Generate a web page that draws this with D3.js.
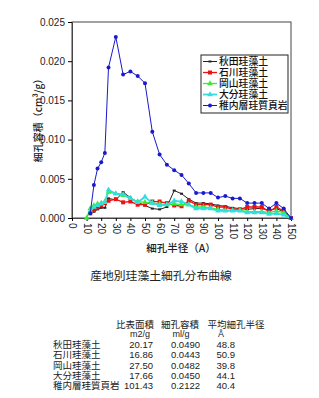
<!DOCTYPE html>
<html>
<head>
<meta charset="utf-8">
<script src="https://cdn.jsdelivr.net/npm/d3@7"></script>
<style>
  body { margin: 0; background: #fff; }
  svg { display: block; }
  text { font-family: "Liberation Sans", Arial, sans-serif; }
  .jp { font-family: "Noto Sans CJK JP", sans-serif; }
</style>
</head>
<body>
<svg id="chart" width="319" height="398"></svg>
<script>
"use strict";

// pore radius (A)
var radius = [10, 12.5, 15, 17.5, 20, 22.5, 25, 30, 35, 40, 45, 50, 55, 60, 65, 70,
              75, 80, 85, 90, 95, 100, 105, 110, 115, 120, 125, 130, 135, 140, 145, 150];

var akita = [null, 0.0005, 0.0008, 0.0011, 0.0013, 0.0013, 0.0025, 0.0023, 0.0033, 0.0026, 0.0020,
             0.0016, 0.0012, 0.0011, 0.0014, 0.0035, 0.0031, 0.0024, 0.0019, 0.0019, 0.0018,
             0.0016, 0.0015, 0.0013, 0.0012, 0.0011, 0.0012, 0.0012, 0.0010, 0.0012, 0.0008, 0];
var ishikawa = [null, 0.0006, 0.0010, 0.0013, 0.0016, 0.0019, 0.0022, 0.0024, 0.0020, 0.0021, 0.0017,
                0.0017, 0.0021, 0.0021, 0.0019, 0.0016, 0.0015, 0.0022, 0.0017, 0.0017, 0.0017,
                0.0014, 0.0014, 0.0011, 0.0011, 0.0014, 0.0014, 0.0014, 0.0008, 0.0014, 0.0009, 0];
var okayama = [0, 0.0012, 0.0016, 0.0018, 0.0019, 0.0021, 0.0033, 0.0031, 0.0029, 0.0025, 0.0021,
               0.0020, 0.0019, 0.0018, 0.0017, 0.0018, 0.0017, 0.0017, 0.0014, 0.0014, 0.0013,
               0.0011, 0.0010, 0.0010, 0.0010, 0.0008, 0.0008, 0.0008, 0.0007, 0.0009, 0.0007, 0];
var oita = [null, 0.0009, 0.0014, 0.0016, 0.0018, 0.0020, 0.0036, 0.0031, 0.0030, 0.0025, 0.0020,
            0.0027, 0.0019, 0.0016, 0.0017, 0.0022, 0.0021, 0.0017, 0.0012, 0.0012, 0.0012,
            0.0009, 0.0009, 0.0009, 0.0009, 0.0007, 0.0007, 0.0007, 0.0005, 0.0006, 0.0004, 0];
var wakkanai = [null, 0.0006, 0.0042, 0.0063, 0.0071, 0.0083, 0.0192, 0.0231, 0.0183, 0.0187, 0.0181,
                0.0172, 0.0110, 0.0081, 0.0068, 0.0061, 0.0055, 0.0044, 0.0032, 0.0032, 0.0032,
                0.0026, 0.0028, 0.0025, 0.0025, 0.0019, 0.0019, 0.0019, 0.0012, 0.0019, 0.0012, 0];

var seriesNames = ["秋田珪藻土", "石川珪藻土", "岡山珪藻土", "大分珪藻土", "稚内層珪質頁岩"];
var seriesValues = [akita, ishikawa, okayama, oita, wakkanai];

var yTicks = [0, 0.005, 0.010, 0.015, 0.020, 0.025];
var xTicks = [0, 10, 20, 30, 40, 50, 60, 70, 80, 90, 100, 110, 120, 130, 140, 150];

// table below the chart
var tableHead1 = ["比表面積", "細孔容積", "平均細孔半径"];
var tableHead2 = ["m2/g", "ml/g", "Å"];
var surfaceArea = ["20.17", "16.86", "27.50", "17.66", "101.43"];
var poreVolume = ["0.0490", "0.0443", "0.0482", "0.0450", "0.2122"];
var meanRadius = ["48.8", "50.9", "39.8", "44.1", "40.4"];

var styles = [
    {color: "#222222", width: 1, marker: "dash"},
    {color: "#ee1111", width: 1.3, marker: "square"},
    {color: "#33ee33", width: 1.3, marker: "triangle"},
    {color: "#33dddd", width: 1.8, marker: "triangle"},
    {color: "#1a1acc", width: 1, marker: "circle"}
];

var svg = d3.select("#chart");
var plotLeft = 72, plotRight = 291, plotTop = 22, plotBottom = 218;

var x = d3.scaleLinear().domain([0, 150]).range([plotLeft, plotRight]);
var y = d3.scaleLinear().domain([0, 0.025]).range([plotBottom, plotTop]);

// frame
svg.append("rect")
    .attr("x", plotLeft).attr("y", plotTop)
    .attr("width", plotRight - plotLeft).attr("height", plotBottom - plotTop)
    .attr("fill", "none").attr("stroke", "#444").attr("stroke-width", 1);

var yAxis = svg.append("g")
    .attr("transform", "translate(" + plotLeft + ",0)")
    .call(d3.axisLeft(y).tickValues(yTicks).tickFormat(d3.format(".3f")).tickSize(4).tickPadding(3));
yAxis.select(".domain").attr("stroke", "#444");
yAxis.selectAll("text").attr("font-size", 10).attr("fill", "#222")
    .style("font-family", "'Liberation Sans', Arial, sans-serif");

var xAxis = svg.append("g")
    .attr("transform", "translate(0," + plotBottom + ")")
    .call(d3.axisBottom(x).tickValues(xTicks).tickSize(3));
xAxis.select(".domain").attr("stroke", "#444");
xAxis.selectAll("text")
    .attr("font-size", 10).attr("fill", "#222")
    .style("font-family", "'Liberation Sans', Arial, sans-serif")
    .attr("text-anchor", "start")
    .attr("dy", "0.35em")
    .attr("transform", "translate(0,5) rotate(90)")
    .attr("x", 0).attr("y", 0);

function drawMarker(g, kind, cx, cy, color) {
    if (kind === "circle") {
        g.append("circle").attr("cx", cx).attr("cy", cy).attr("r", 2).attr("fill", color);
    } else if (kind === "square") {
        g.append("rect").attr("x", cx - 2).attr("y", cy - 2).attr("width", 4).attr("height", 4).attr("fill", color);
    } else if (kind === "triangle") {
        g.append("path").attr("d", d3.symbol(d3.symbolTriangle, 14)())
            .attr("transform", "translate(" + cx + "," + cy + ")").attr("fill", color);
    } else {
        g.append("rect").attr("x", cx - 1.5).attr("y", cy - 1).attr("width", 3).attr("height", 2).attr("fill", color);
    }
}

var line = d3.line()
    .defined(function(d) { return d[1] !== null; })
    .x(function(d) { return x(d[0]); })
    .y(function(d) { return y(d[1]); });

seriesValues.forEach(function(vals, i) {
    var st = styles[i];
    var pts = radius.map(function(r, j) { return [r, vals[j]]; });
    var g = svg.append("g");
    g.append("path").datum(pts)
        .attr("d", line).attr("fill", "none")
        .attr("stroke", st.color).attr("stroke-width", st.width);
    pts.filter(function(p) { return p[1] !== null; }).forEach(function(p) {
        drawMarker(g, st.marker, x(p[0]), y(p[1]), st.color);
    });
});

// legend
var lg = svg.append("g").attr("transform", "translate(201,55)");
lg.append("rect").attr("width", 87).attr("height", 58)
    .attr("fill", "#fff").attr("stroke", "#222").attr("stroke-width", 1);
seriesNames.forEach(function(name, i) {
    var st = styles[i];
    var cy = 6.5 + i * 11;
    lg.append("line").attr("x1", 2).attr("x2", 16).attr("y1", cy).attr("y2", cy)
        .attr("stroke", st.color).attr("stroke-width", st.width);
    drawMarker(lg, st.marker, 9, cy, st.color);
    lg.append("text").attr("class", "jp").attr("x", 18).attr("y", cy + 3.6)
        .attr("font-size", 9.8).attr("font-weight", 500).attr("fill", "#111").text(name);
});

// axis titles
svg.append("text").attr("class", "jp")
    .attr("transform", "translate(42,118) rotate(-90)")
    .attr("text-anchor", "middle").attr("font-size", 10).attr("font-weight", 500).attr("fill", "#222")
    .text("細孔容積（cm³/g）");

svg.append("text").attr("class", "jp")
    .attr("x", 181).attr("y", 252)
    .attr("text-anchor", "middle").attr("font-size", 10.5).attr("font-weight", 500).attr("fill", "#222")
    .text("細孔半径（A）");

svg.append("text").attr("class", "jp")
    .attr("x", 161).attr("y", 280)
    .attr("text-anchor", "middle").attr("font-size", 11.8).attr("fill", "#222")
    .text("産地別珪藻土細孔分布曲線");

// table
var colRight = [153, 200, 235];
var colCenter = [135, 180, 236];
var head2Center = [140, 181, 221];
tableHead1.forEach(function(h, i) {
    svg.append("text").attr("class", "jp").attr("x", colCenter[i]).attr("y", 328)
        .attr("text-anchor", "middle").attr("font-size", 9.5).attr("fill", "#222").text(h);
    svg.append("text").attr("x", head2Center[i]).attr("y", 337)
        .attr("text-anchor", "middle").attr("font-size", 9).attr("fill", "#222").text(tableHead2[i]);
});
seriesNames.forEach(function(name, i) {
    var by = 348 + i * 10.3;
    svg.append("text").attr("class", "jp").attr("x", 53).attr("y", by)
        .attr("font-size", 9.5).attr("fill", "#222").text(name);
    [surfaceArea, poreVolume, meanRadius].forEach(function(col, c) {
        svg.append("text").attr("x", colRight[c]).attr("y", by)
            .attr("text-anchor", "end").attr("font-size", 9.5).attr("fill", "#222").text(col[i]);
    });
});
</script>
</body>
</html>
